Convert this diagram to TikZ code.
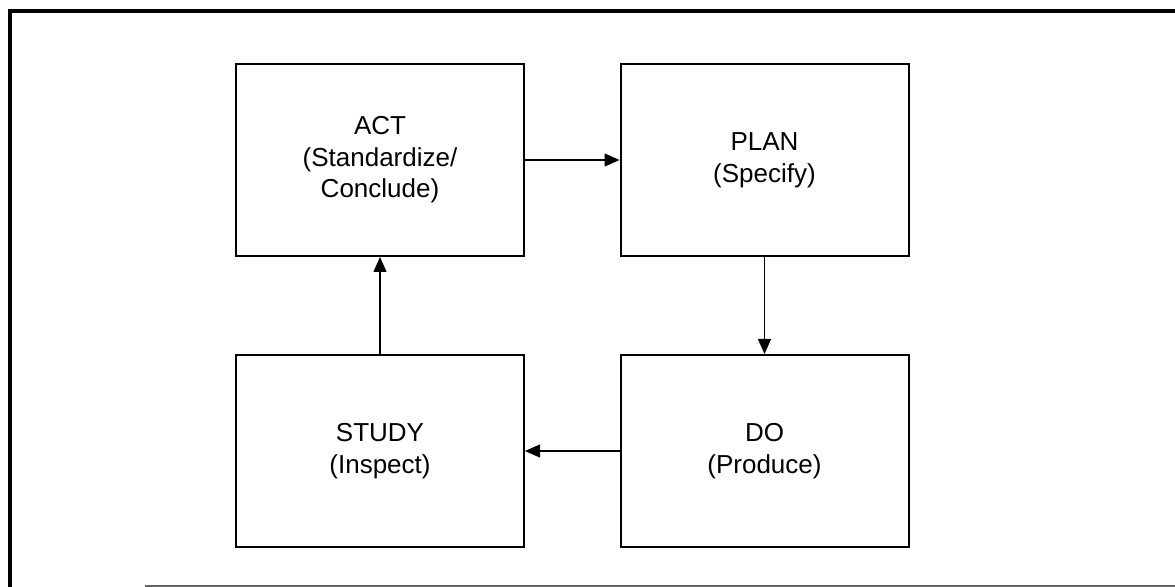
\documentclass[tikz,border=0pt]{standalone}
\usepackage{fontspec}
\setmainfont{Liberation Sans}
\usetikzlibrary{arrows.meta}

\tikzset{
  stage/.style={draw, line width=1pt, rectangle, minimum width=144pt,
    minimum height=96pt, align=center, inner sep=0pt,
    font=\fontsize{13}{15.8}\selectfont},
  flow/.style={line width=0.7pt, -{Triangle[length=7.5pt,width=6.5pt]}},
  frame/.style={line width=2.2pt},
  baseline rule/.style={line width=0.6pt, black!60}
}

\begin{document}
\begin{tikzpicture}[x=0.5pt, y=-0.5pt]
  \useasboundingbox (0,0) rectangle (1175,587);

  % outer frame
  \draw[frame] (10,590) -- (10,11) -- (1180,11);
  \draw[baseline rule] (145,586) -- (1180,586);

  % the four stages of the cycle
  \node[stage] (act)   at (380,160)   {ACT\\(Standardize/\\Conclude)};
  \node[stage] (plan)  at (764.5,160) {PLAN\\(Specify)};
  \node[stage] (do)    at (764.5,451) {DO\\(Produce)};
  \node[stage] (study) at (380,451)   {STUDY\\(Inspect)};

  % cycle connectors
  \draw[flow] (act.east) -- (plan.west);
  \draw[flow] (plan.south) -- (do.north);
  \draw[flow] (do.west) -- (study.east);
  \draw[flow] (study.north) -- (act.south);
\end{tikzpicture}
\end{document}
